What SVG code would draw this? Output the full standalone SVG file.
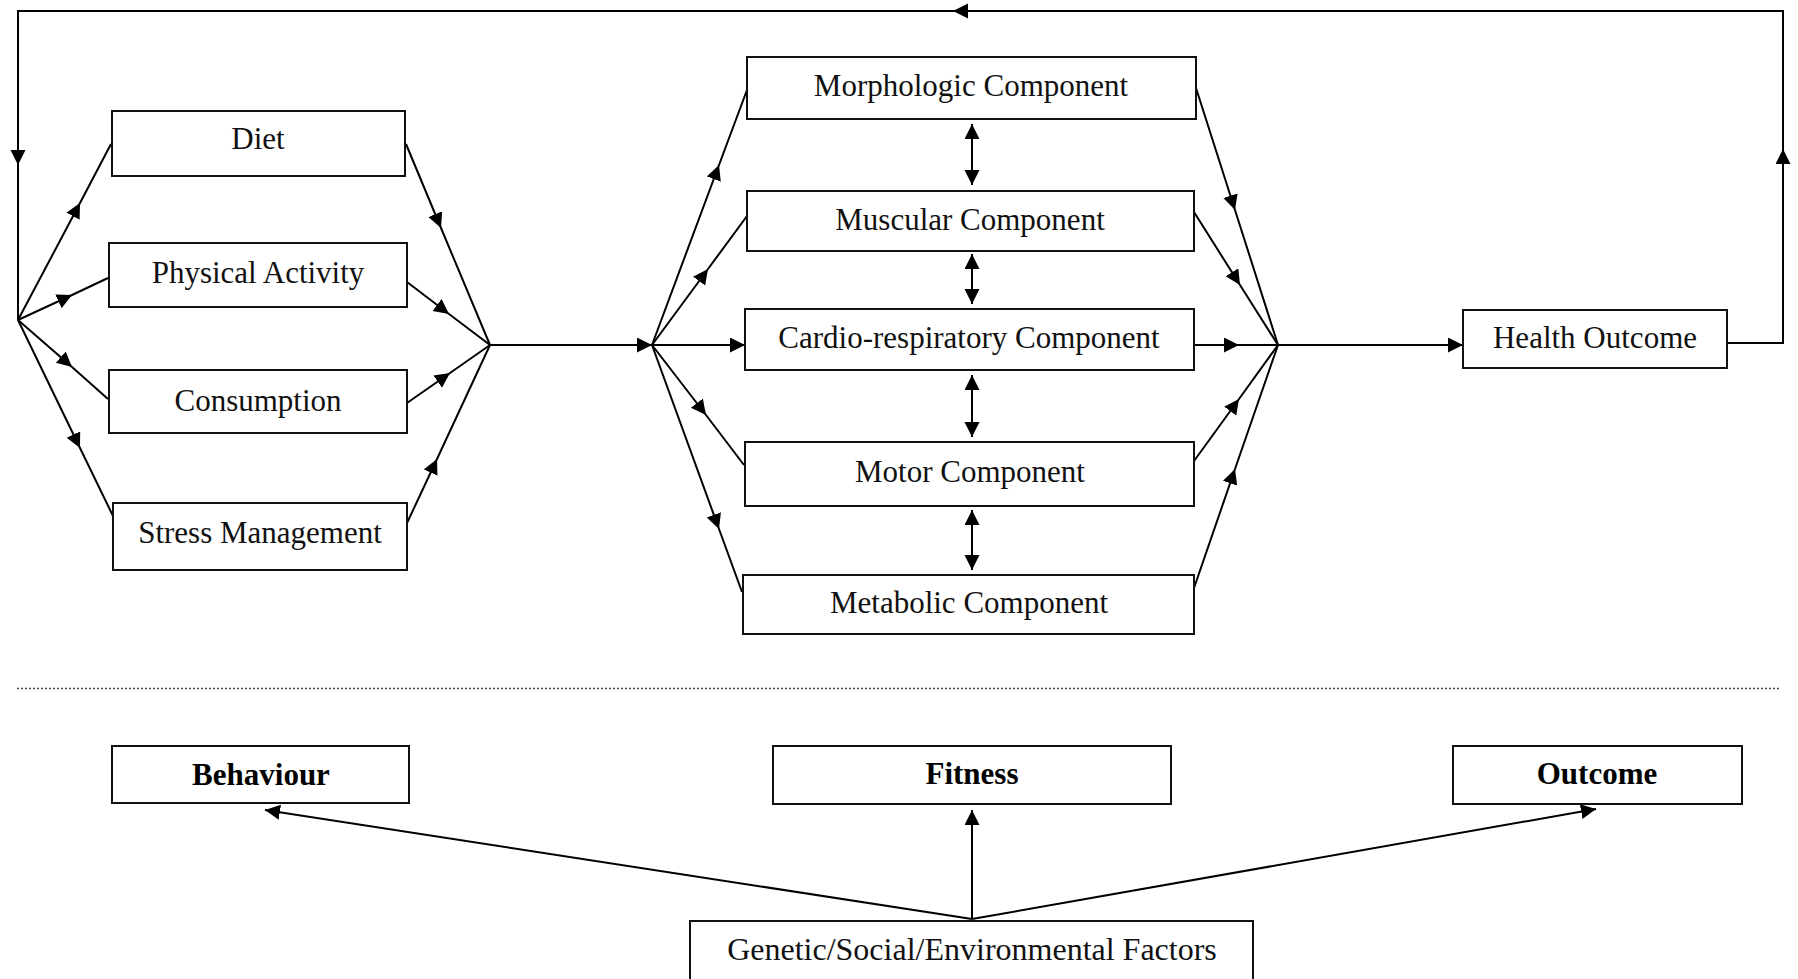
<svg xmlns="http://www.w3.org/2000/svg" width="1798" height="979" viewBox="0 0 1798 979">
  <style>
    .box { fill: #fff; stroke: #111; stroke-width: 2; }
    .lbl { font-family: "Liberation Serif", "Times New Roman", serif; font-size: 31px; fill: #111; text-anchor: middle; }
    .head { font-family: "Liberation Serif", "Times New Roman", serif; font-size: 31px; font-weight: bold; fill: #000; text-anchor: middle; }
    .gen { font-family: "Liberation Serif", "Times New Roman", serif; font-size: 32px; fill: #111; text-anchor: middle; }
    .ln { fill: none; stroke: #000; stroke-width: 2; }
    .mid { marker-mid: url(#ah); }
    .end { marker-end: url(#ah); }
    .both { marker-start: url(#ah); marker-end: url(#ah); }
    .sep { fill: none; stroke: #444; stroke-width: 1.5; stroke-dasharray: 2 2; }
  </style>
  <defs>
    <marker id="ah" markerUnits="userSpaceOnUse" markerWidth="16" markerHeight="16" refX="15" refY="7.5" orient="auto-start-reverse">
      <path d="M0,0 L15,7.5 L0,15 Z" fill="#000"/>
    </marker>
  </defs>
  <rect width="1798" height="979" fill="#fff"/>

  <g id="connectors">
    <!-- feedback loop from health outcome back to behaviours -->
    <polyline class="ln" points="1727,343 1783,343 1783,11 18,11 18,320"/>
    <path class="ln end" d="M1783,170 L1783,149"/>
    <path class="ln end" d="M975,11 L953,11"/>
    <path class="ln end" d="M18,145 L18,165"/>

    <!-- hub to behaviours -->
    <path class="ln mid" d="M18,320 L80,203 L111,144"/>
    <path class="ln mid" d="M18,320 L72,295 L108,278"/>
    <path class="ln mid" d="M18,320 L72,367 L108,399"/>
    <path class="ln mid" d="M18,320 L80,448 L113,516"/>

    <!-- behaviours to hub -->
    <path class="ln mid" d="M406,144 L441,228 L490,345"/>
    <path class="ln mid" d="M407,282 L449,314 L490,345"/>
    <path class="ln mid" d="M407,403 L450,373 L490,345"/>
    <path class="ln mid" d="M407,523 L437,459 L490,345"/>

    <!-- behaviour hub to fitness hub -->
    <path class="ln end" d="M490,345 L652,345"/>

    <!-- fitness hub to components -->
    <path class="ln mid" d="M652,345 L719,165 L747,90"/>
    <path class="ln mid" d="M652,345 L708,269 L747,216"/>
    <path class="ln end" d="M652,345 L745,345"/>
    <path class="ln mid" d="M652,345 L706,415 L744,465"/>
    <path class="ln mid" d="M652,345 L719,529 L742,592"/>

    <!-- components to outcome hub -->
    <path class="ln mid" d="M1196,88 L1235,210 L1278,345"/>
    <path class="ln mid" d="M1194,212 L1240,285 L1278,345"/>
    <path class="ln mid" d="M1194,345 L1239,345 L1278,345"/>
    <path class="ln mid" d="M1194,461 L1239,399 L1278,345"/>
    <path class="ln mid" d="M1194,588 L1235,469 L1278,345"/>

    <!-- outcome hub to health outcome -->
    <path class="ln end" d="M1278,345 L1463,345"/>

    <!-- links between fitness components -->
    <path class="ln both" d="M972,124 L972,185"/>
    <path class="ln both" d="M972,254 L972,304"/>
    <path class="ln both" d="M972,375 L972,437"/>
    <path class="ln both" d="M972,510 L972,570"/>

    <!-- separator -->
    <line class="sep" x1="17" y1="688.5" x2="1781" y2="688.5"/>

    <!-- determinants -->
    <path class="ln end" d="M972,919 L265,810"/>
    <path class="ln end" d="M972,919 L972,810"/>
    <path class="ln end" d="M972,919 L1596,809"/>
  </g>

  <g id="diet"><rect class="box" x="112" y="111" width="293" height="65"/><text class="lbl" x="258" y="149">Diet</text></g>
  <g id="physical-activity"><rect class="box" x="109" y="243" width="298" height="64"/><text class="lbl" x="258" y="283">Physical Activity</text></g>
  <g id="consumption"><rect class="box" x="109" y="370" width="298" height="63"/><text class="lbl" x="258" y="411">Consumption</text></g>
  <g id="stress-management"><rect class="box" x="113" y="503" width="294" height="67"/><text class="lbl" x="260" y="543">Stress Management</text></g>

  <g id="morphologic"><rect class="box" x="747" y="57" width="449" height="62"/><text class="lbl" x="971" y="96">Morphologic Component</text></g>
  <g id="muscular"><rect class="box" x="747" y="191" width="447" height="60"/><text class="lbl" x="970" y="230">Muscular Component</text></g>
  <g id="cardio-respiratory"><rect class="box" x="745" y="309" width="449" height="61"/><text class="lbl" x="969" y="348">Cardio-respiratory Component</text></g>
  <g id="motor"><rect class="box" x="745" y="442" width="449" height="64"/><text class="lbl" x="970" y="482">Motor Component</text></g>
  <g id="metabolic"><rect class="box" x="743" y="575" width="451" height="59"/><text class="lbl" x="969" y="613">Metabolic Component</text></g>

  <g id="health-outcome"><rect class="box" x="1463" y="310" width="264" height="58"/><text class="lbl" x="1595" y="348">Health Outcome</text></g>

  <g id="behaviour"><rect class="box" x="112" y="746" width="297" height="57"/><text class="head" x="261" y="785">Behaviour</text></g>
  <g id="fitness"><rect class="box" x="773" y="746" width="398" height="58"/><text class="head" x="972" y="784">Fitness</text></g>
  <g id="outcome"><rect class="box" x="1453" y="746" width="289" height="58"/><text class="head" x="1597" y="784">Outcome</text></g>
  <g id="factors"><rect class="box" x="690" y="921" width="563" height="80"/><text class="gen" x="972" y="960">Genetic/Social/Environmental Factors</text></g>
</svg>
